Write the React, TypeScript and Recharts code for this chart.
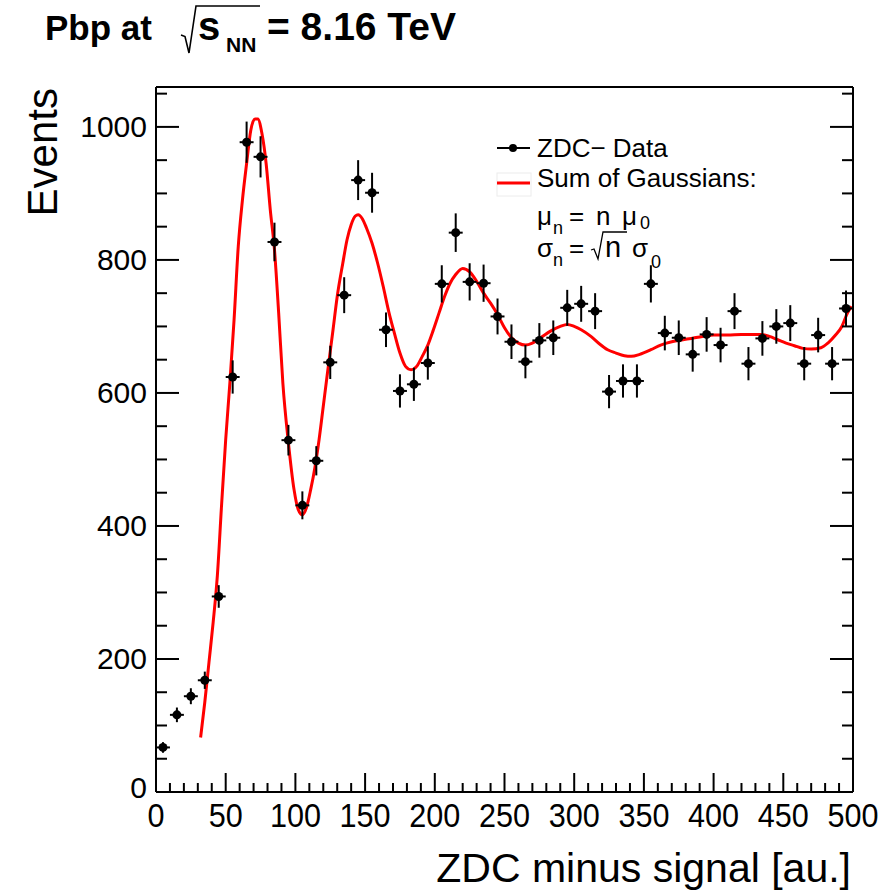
import { ComposedChart, ErrorBar, Line, Scatter, XAxis, YAxis } from "recharts";

const binCenters = [
  5, 15, 25, 35, 45, 55, 65, 75, 85, 95, 105, 115, 125, 135, 145, 155, 165,
  175, 185, 195, 205, 215, 225, 235, 245, 255, 265, 275, 285, 295, 305, 315,
  325, 335, 345, 355, 365, 375, 385, 395, 405, 415, 425, 435, 445, 455, 465,
  475, 485, 495,
];

const eventCounts = [
  67, 116, 144, 168, 294, 624, 977, 955, 827, 529, 431, 498, 646, 747, 920,
  901, 695, 603, 613, 645, 764, 841, 767, 765, 715, 677, 647, 679, 683, 728,
  734, 723, 602, 618, 618, 764, 690, 683, 658, 688, 672, 723, 644, 682, 700,
  705, 644, 687, 644, 727,
];

const eventErrors = [
  8, 11, 12, 13, 17, 25, 31, 31, 29, 23, 21, 22, 25, 27, 30, 30, 26, 25, 25,
  25, 28, 29, 28, 28, 27, 26, 25, 26, 26, 27, 27, 27, 25, 25, 25, 28, 26, 26,
  26, 26, 26, 27, 25, 26, 26, 27, 25, 26, 25, 27,
];

const binHalfWidth = 5;

// sum-of-gaussians fit
const fitX = [
  32, 35, 38, 41, 44, 47, 50, 53, 56, 59, 62, 65, 68, 71, 73, 76, 79, 82, 85,
  88, 91, 95, 99, 102, 105, 108, 111, 114, 117, 120, 123, 127, 130, 134, 137,
  140, 143, 145, 148, 151, 155, 159, 163, 167, 171, 175, 179, 183, 187, 191,
  195, 199, 203, 207, 211, 215, 220, 225, 230, 235, 240, 245, 250, 255, 260,
  265, 270, 276, 283, 290, 295, 300, 305, 312, 318, 324, 330, 336, 341, 347,
  355, 362, 370, 378, 384, 392, 400, 410, 420, 434, 440, 446, 452, 458, 464,
  470, 477, 482, 487, 492, 496, 499,
];

const fitY = [
  82, 135, 195, 255, 325, 430, 530, 615, 710, 820, 890, 945, 995, 1012, 1012,
  990, 945, 875, 815, 720, 615, 525, 455, 425, 417, 428, 455, 488, 530, 580,
  630, 695, 745, 795, 830, 853, 866, 868, 862, 848, 825, 795, 760, 722, 690,
  660, 640, 635, 640, 655, 672, 695, 720, 745, 765, 778, 787, 782, 768, 750,
  735, 718, 698, 683, 675, 672, 675, 683, 693, 700, 703, 700, 695, 685, 674,
  665, 660, 656, 655, 658, 665, 672, 677, 680, 682, 685, 687, 687, 688, 688,
  685, 680, 675, 671, 667, 666, 668, 675, 686, 700, 720, 730,
];

const xTickLabels = [0, 50, 100, 150, 200, 250, 300, 350, 400, 450, 500];
const yTickLabels = [0, 200, 400, 600, 800, 1000];

const pointData = binCenters.map((x, i) => ({
  x,
  y: eventCounts[i],
  ex: binHalfWidth,
  ey: eventErrors[i],
}));
const fitData = fitX.map((x, i) => ({ x, y: fitY[i] }));

const xTicks = Array.from({ length: 51 }, (_, i) => i * 10);
const yTicks = Array.from({ length: 22 }, (_, i) => i * 50);

const FONT = "'Liberation Sans', Arial, Helvetica, sans-serif";

function BottomTick({ x, y, payload }: any) {
  const v = payload.value;
  const major = xTickLabels.includes(v);
  return (
    <g>
      <line x1={x} x2={x} y1={y} y2={y - (major ? 19 : 9)} stroke="#000" strokeWidth={2} />
      {major && (
        <text
          transform={`translate(${x},${y + 35}) scale(0.9,1)`}
          textAnchor="middle"
          fontSize={34}
          fontFamily={FONT}
          fill="#000"
        >
          {v}
        </text>
      )}
    </g>
  );
}

function TopTick({ x, y, payload }: any) {
  const major = xTickLabels.includes(payload.value);
  return <line x1={x} x2={x} y1={y} y2={y + (major ? 19 : 9)} stroke="#000" strokeWidth={2} />;
}

function LeftTick({ x, y, payload }: any) {
  const v = payload.value;
  const major = yTickLabels.includes(v);
  return (
    <g>
      <line x1={x} x2={x + (major ? 23 : 11)} y1={y} y2={y} stroke="#000" strokeWidth={2} />
      {major && (
        <text
          x={x - 9}
          y={v === 0 ? y - 5 : y}
          dy="0.35em"
          textAnchor="end"
          fontSize={30}
          fontFamily={FONT}
          fill="#000"
        >
          {v}
        </text>
      )}
    </g>
  );
}

function RightTick({ x, y, payload }: any) {
  const major = yTickLabels.includes(payload.value);
  return <line x1={x} x2={x - (major ? 23 : 11)} y1={y} y2={y} stroke="#000" strokeWidth={2} />;
}

export default function App() {
  return (
    <div style={{ position: "relative", width: 894, height: 892, background: "#fff" }}>
      <style>{"body{margin:0}"}</style>
      <ComposedChart width={894} height={892} margin={{ top: 0, right: 0, bottom: 0, left: 0 }}>
        <XAxis
          dataKey="x"
          type="number"
          domain={[0, 500]}
          allowDataOverflow
          ticks={xTicks}
          interval={0}
          tick={BottomTick}
          tickSize={0}
          tickMargin={0}
          height={100}
          axisLine={{ stroke: "#000", strokeWidth: 2 }}
        />
        <XAxis
          xAxisId="top"
          orientation="top"
          type="number"
          domain={[0, 500]}
          allowDataOverflow
          ticks={xTicks}
          interval={0}
          tick={TopTick}
          tickSize={0}
          tickMargin={0}
          height={87}
          axisLine={{ stroke: "#000", strokeWidth: 2 }}
        />
        <YAxis
          type="number"
          domain={[0, 1060]}
          allowDataOverflow
          ticks={yTicks}
          interval={0}
          tick={LeftTick}
          tickSize={0}
          tickMargin={0}
          width={156}
          axisLine={{ stroke: "#000", strokeWidth: 2 }}
        />
        <YAxis
          yAxisId="right"
          orientation="right"
          type="number"
          domain={[0, 1060]}
          allowDataOverflow
          ticks={yTicks}
          interval={0}
          tick={RightTick}
          tickSize={0}
          tickMargin={0}
          width={41}
          axisLine={{ stroke: "#000", strokeWidth: 2 }}
        />
        <Line
          data={fitData}
          dataKey="y"
          type="monotone"
          stroke="#ff0000"
          strokeWidth={3}
          dot={false}
          activeDot={false}
          isAnimationActive={false}
        />
        <Scatter
          data={pointData}
          dataKey="y"
          isAnimationActive={false}
          shape={(p: any) => <circle cx={p.cx} cy={p.cy} r={4.5} fill="#000" />}
        >
          <ErrorBar dataKey="ey" direction="y" width={0} stroke="#000" strokeWidth={2} />
          <ErrorBar dataKey="ex" direction="x" width={0} stroke="#000" strokeWidth={2} />
        </Scatter>
      </ComposedChart>

      <svg
        width={894}
        height={892}
        style={{ position: "absolute", left: 0, top: 0, pointerEvents: "none" }}
        fontFamily={FONT}
        fill="#000"
      >
        {/* title */}
        <text x={45} y={40} fontSize={35} fontWeight="bold">Pbp at</text>
        <path d="M181 35 L185 36.5 L189 53 L196 6 L260 6" fill="none" stroke="#000" strokeWidth={1.6} />
        <text x={198} y={40} fontSize={40} fontWeight="bold">s</text>
        <text x={226} y={52} fontSize={21} fontWeight="bold">NN</text>
        <text x={267} y={40} fontSize={39} fontWeight="bold">= 8.16 TeV</text>

        {/* legend */}
        <line x1={497} x2={530} y1={148} y2={148} stroke="#000" strokeWidth={2} />
        <circle cx={513} cy={148} r={4} fill="#000" />
        <text x={537} y={157} fontSize={26}>ZDC− Data</text>
        <rect x={497} y={173} width={34} height={23} fill="none" stroke="#ececec" strokeWidth={1} />
        <line x1={497} x2={530} y1={183} y2={183} stroke="#ff0000" strokeWidth={3} />
        <text x={537} y={187} fontSize={26}>Sum of Gaussians:</text>

        <text x={537} y={225} fontSize={26}>μ</text>
        <text x={553} y={234} fontSize={18}>n</text>
        <text x={569} y={225} fontSize={26}>=</text>
        <text x={596} y={225} fontSize={26}>n</text>
        <text x={622} y={225} fontSize={26}>μ</text>
        <text x={640} y={229} fontSize={18}>0</text>

        <text x={537} y={257} fontSize={26}>σ</text>
        <text x={553} y={266} fontSize={18}>n</text>
        <text x={569} y={257} fontSize={26}>=</text>
        <path d="M591 250 L594 249 L598 259 L603 232 L627 232" fill="none" stroke="#000" strokeWidth={1.3} />
        <text x={605} y={257} fontSize={29}>n</text>
        <text x={632} y={257} fontSize={26}>σ</text>
        <text x={651} y={268} fontSize={18}>0</text>

        {/* axis titles */}
        <text transform="translate(57,88) rotate(-90)" textAnchor="end" fontSize={42}>Events</text>
        <text x={851} y={882} textAnchor="end" fontSize={41}>ZDC minus signal [au.]</text>
      </svg>
    </div>
  );
}
